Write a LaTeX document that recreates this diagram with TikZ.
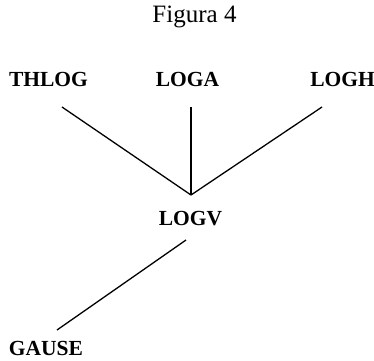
\documentclass[tikz,border=0pt]{standalone}
\usepackage{fontspec}
\setmainfont{Liberation Serif}
\begin{document}
\begin{tikzpicture}[x=1pt,y=-1pt,
  lbl/.style={anchor=base,inner sep=0pt,font=\fontsize{21.5}{24}\selectfont\bfseries},
  ttl/.style={anchor=base,inner sep=0pt,font=\fontsize{25}{28}\selectfont},
  conn/.style={line width=1.3pt}]
\useasboundingbox (0,0) rectangle (374,360);
\node[ttl] (title) at (194.5,22) {Figura 4};
\node[lbl] (thlog) at (48.5,86) {THLOG};
\node[lbl] (loga) at (187.5,86) {LOGA};
\node[lbl] (logh) at (342.5,86) {LOGH};
\node[lbl] (logv) at (190.5,225) {LOGV};
\node[lbl] (gause) at (46,355) {GAUSE};
\coordinate (j) at (191,195);
\coordinate (t1) at (62,107);
\coordinate (a1) at (191,107);
\coordinate (h1) at (322,107);
\coordinate (v1) at (186,240);
\coordinate (g1) at (57,330);
\draw[conn] (t1) -- (j);
\draw[conn] (a1) -- (j);
\draw[conn] (h1) -- (j);
\draw[conn] (v1) -- (g1);
\end{tikzpicture}
\end{document}
